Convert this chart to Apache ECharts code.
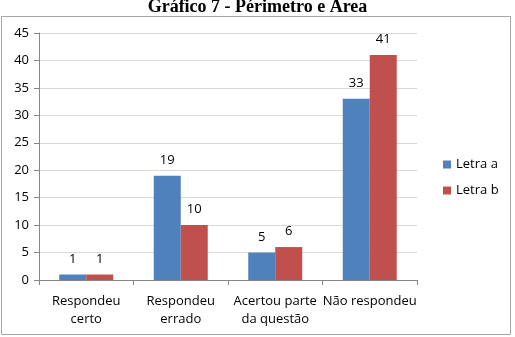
<!DOCTYPE html>
<html>
<head>
<meta charset="utf-8">
<script src="https://cdn.jsdelivr.net/npm/echarts@6/dist/echarts.min.js"></script>
<style>
  html, body { margin: 0; padding: 0; background: #fff; }
  #chart { width: 515px; height: 337px; }
</style>
</head>
<body>
<div id="chart"></div>
<script>
var categories = ['Respondeu\ncerto', 'Respondeu\nerrado', 'Acertou parte\nda questão', 'Não respondeu']
var letraA = [1, 19, 5, 33]
var letraB = [1, 10, 6, 41]

var chart = echarts.init(document.getElementById('chart'))
var font = 'Open Sans'

var option = {
    animation: false,
    title: {
        text: 'Gráfico 7 - Périmetro e Área',
        left: 'center',
        top: -7,
        textStyle: {
            fontFamily: 'Liberation Serif',
            fontWeight: 'bold',
            fontSize: 18,
            color: '#000'
        }
    },
    graphic: [{
        type: 'rect',
        shape: { x: 1.5, y: 16.5, width: 509, height: 318 },
        style: { fill: 'none', stroke: '#a6a6a6', lineWidth: 1 },
        silent: true
    }],
    legend: {
        orient: 'vertical',
        left: 438,
        top: 153,
        itemWidth: 8,
        itemHeight: 8,
        itemGap: 13,
        icon: 'rect',
        textStyle: { fontFamily: font, fontSize: 13, color: '#000' },
        data: ['Letra a', 'Letra b']
    },
    grid: {
        left: 39,
        right: 98,
        top: 33,
        bottom: 57,
        containLabel: false
    },
    xAxis: {
        type: 'category',
        data: categories,
        axisLine: { lineStyle: { color: '#868686' } },
        axisTick: { show: true, length: 5, lineStyle: { color: '#868686' } },
        axisLabel: {
            interval: 0,
            margin: 12,
            fontFamily: font,
            fontSize: 13,
            lineHeight: 18,
            color: '#000'
        }
    },
    yAxis: {
        type: 'value',
        min: 0,
        max: 45,
        interval: 5,
        axisLine: { show: true, lineStyle: { color: '#868686' } },
        axisTick: { show: true, length: 5, lineStyle: { color: '#868686' } },
        splitLine: { lineStyle: { color: '#d9d9d9' } },
        axisLabel: { fontFamily: font, fontSize: 13, color: '#000', margin: 10 }
    },
    series: [
        {
            name: 'Letra a',
            type: 'bar',
            data: letraA,
            barWidth: 27,
            barGap: '0%',
            itemStyle: { color: '#4f81bd' },
            label: { show: true, position: 'top', distance: 9, fontFamily: font, fontSize: 13, color: '#000' }
        },
        {
            name: 'Letra b',
            type: 'bar',
            data: letraB,
            barWidth: 27,
            itemStyle: { color: '#c0504d' },
            label: { show: true, position: 'top', distance: 9, fontFamily: font, fontSize: 13, color: '#000' }
        }
    ]
}
chart.setOption(option)
</script>
</body>
</html>
